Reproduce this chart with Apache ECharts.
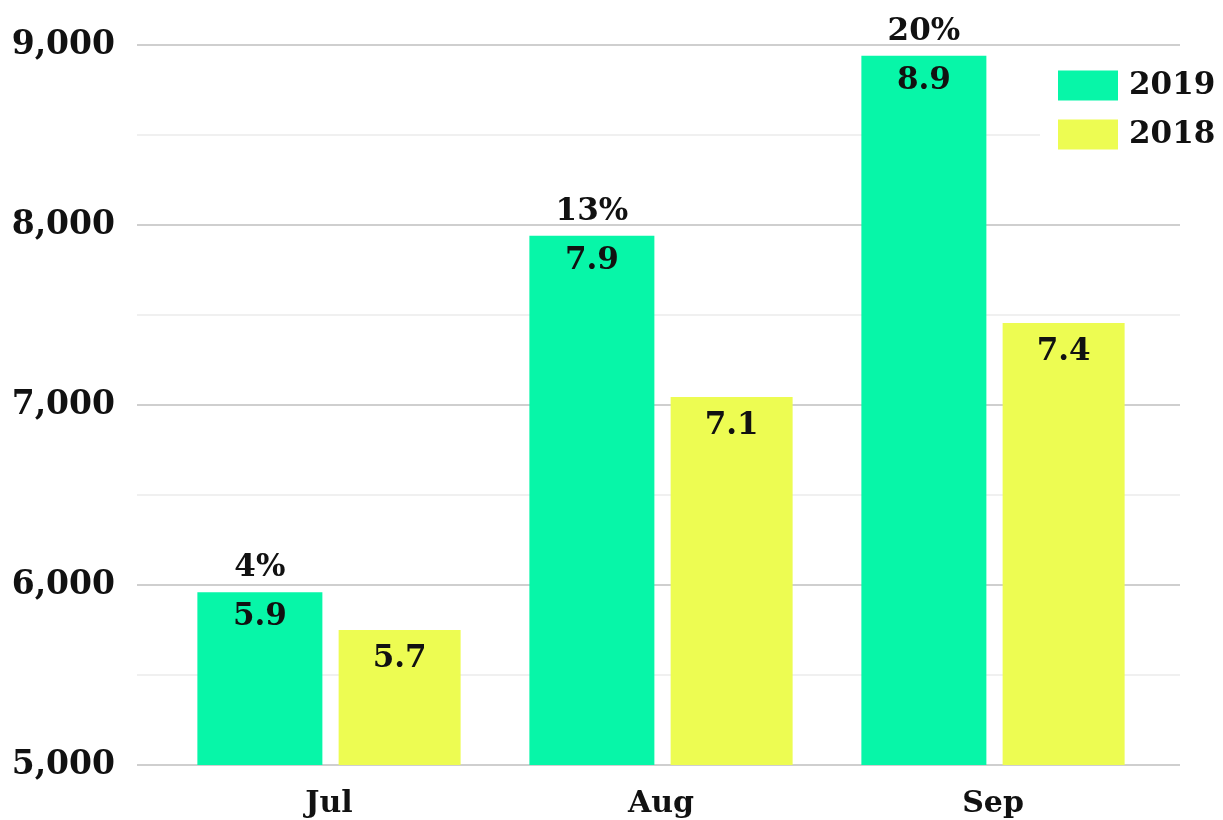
<!DOCTYPE html>
<html>
<head>
<meta charset="utf-8">
<script src="https://cdn.jsdelivr.net/npm/echarts@6/dist/echarts.min.js"></script>
<style>html,body{margin:0;padding:0;background:#fff}#c{width:1223px;height:820px}</style>
</head>
<body>
<div id="c"></div>
<script>
var categories = ['Jul', 'Aug', 'Sep'];
var values2019 = [5960, 7940, 8940];
var values2018 = [5750, 7045, 7455];
var labels2019 = ['5.9', '7.9', '8.9'];
var labels2018 = ['5.7', '7.1', '7.4'];
var growthLabels = ['4%', '13%', '20%'];
var yTicks = [5000, 6000, 7000, 8000, 9000];

var FONT = 'DejaVu Serif';
var chart = echarts.init(document.getElementById('c'));
chart.setOption({
  animation: false,
  backgroundColor: '#ffffff',
  grid: [
    {left: 137, right: 43, top: 45, bottom: 55},
    {left: 163, right: 64, top: 45, bottom: 55}
  ],
  legend: {
    data: ['2019', '2018'],
    left: 1040, top: 60,
    orient: 'vertical',
    backgroundColor: '#ffffff',
    padding: [10, 10, 10, 18],
    itemWidth: 60, itemHeight: 30, itemGap: 18,
    icon: 'rect',
    textStyle: {fontFamily: FONT, fontWeight: 'bold', fontSize: 31, color: '#111', padding: [0, 0, 0, 6]}
  },
  xAxis: [
    {type: 'category', gridIndex: 0, data: categories, show: false},
    {type: 'category', gridIndex: 1, data: categories,
      axisLine: {show: false}, axisTick: {show: false},
      axisLabel: {fontFamily: FONT, fontWeight: 'bold', fontSize: 30, color: '#111', margin: 24}}
  ],
  yAxis: [
    {type: 'value', gridIndex: 0, min: yTicks[0], max: yTicks[yTicks.length - 1], interval: 1000,
      axisLine: {show: false}, axisTick: {show: false},
      axisLabel: {fontFamily: FONT, fontWeight: 'bold', fontSize: 33, color: '#111', margin: 22,
        formatter: function (v) { return v.toLocaleString('en-US'); }},
      splitLine: {show: true, lineStyle: {color: '#cfcfcf', width: 2}},
      minorTick: {show: false, splitNumber: 2},
      minorSplitLine: {show: true, lineStyle: {color: '#ebebeb', width: 1.5}}
    },
    {type: 'value', gridIndex: 1, min: yTicks[0], max: yTicks[yTicks.length - 1], interval: 1000, show: false,
      splitLine: {show: false}}
  ],
  series: [
    {
      name: '2019', type: 'bar', xAxisIndex: 1, yAxisIndex: 1,
      data: values2019, barWidth: 125, barGap: '13%',
      itemStyle: {color: '#07F6A8'},
      label: {
        show: true, position: ['50%', 0], align: 'center', verticalAlign: 'middle',
        formatter: function (p) { return '{p|' + growthLabels[p.dataIndex] + '}\n{v|' + labels2019[p.dataIndex] + '}'; },
        rich: {
          p: {fontFamily: FONT, fontWeight: 'bold', fontSize: 31, color: '#111', lineHeight: 50},
          v: {fontFamily: FONT, fontWeight: 'bold', fontSize: 31, color: '#111', lineHeight: 48}
        }
      }
    },
    {
      name: '2018', type: 'bar', xAxisIndex: 1, yAxisIndex: 1,
      data: values2018, barWidth: 122,
      itemStyle: {color: '#EDFC52'},
      label: {
        show: true, position: ['50%', 29], align: 'center', verticalAlign: 'middle',
        formatter: function (p) { return labels2018[p.dataIndex]; },
        fontFamily: FONT, fontWeight: 'bold', fontSize: 31, color: '#111'
      }
    }
  ]
});
</script>
</body>
</html>
